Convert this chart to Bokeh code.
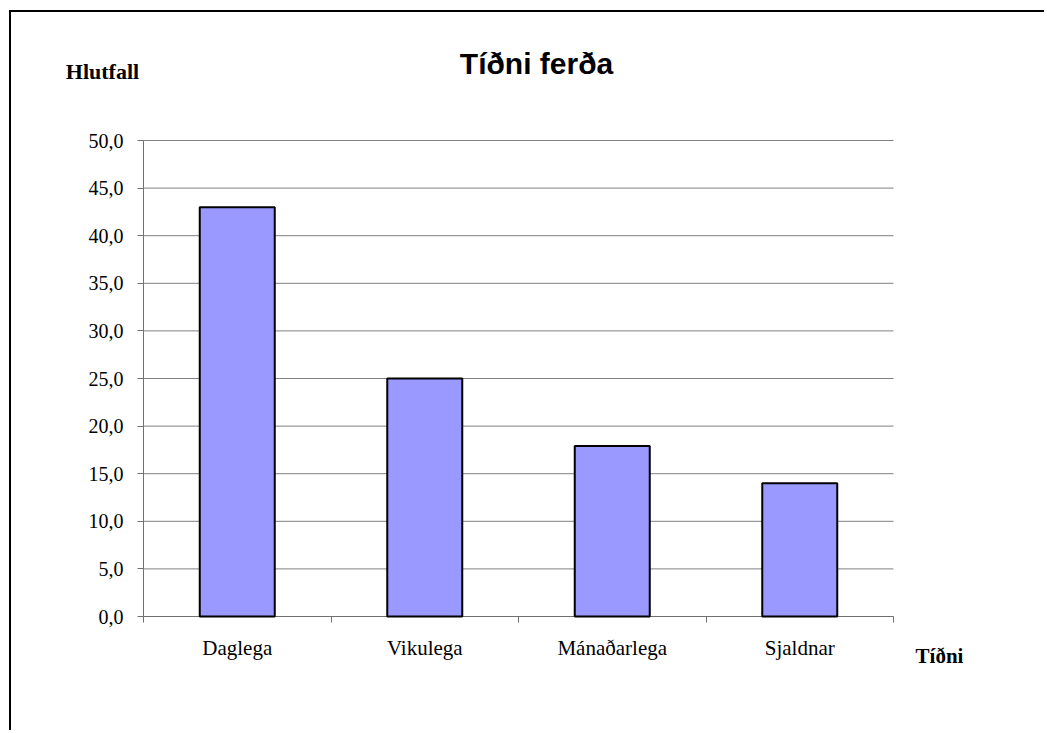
from bokeh.plotting import figure
from bokeh.models import Range1d, FixedTicker, Label
from bokeh.embed import file_html
from bokeh.resources import INLINE

# ---- data ----
categories = ["Daglega", "Vikulega", "Mánaðarlega", "Sjaldnar"]
values = [43.0, 25.0, 17.9, 14.0]
y_ticks = [0, 5, 10, 15, 20, 25, 30, 35, 40, 45, 50]
y_max = 50
title_text = "Tíðni ferða"
y_title = "Hlutfall"
x_title = "Tíðni"

# ---- layout (pixels) ----
W, H = 1035, 720
CANVAS_X0, CANVAS_Y0 = 11, 12          # canvas origin on the page
PL, PR, PT, PB = 143, 893, 140, 616    # plot area on the page

ncat = len(categories)
sx = (PR - PL) / ncat                  # px per category
sy = (PB - PT) / y_max                 # px per unit
cl, cr = PL - CANVAS_X0, PR - CANVAS_X0
ct, cb = PT - CANVAS_Y0, PB - CANVAS_Y0
x_range = Range1d(-cl / sx, ncat + (W - cr) / sx)
y_range = Range1d(-(H - cb) / sy, y_max + ct / sy)

p = figure(width=W, height=H, output_backend="svg", toolbar_location=None,
           x_range=x_range, y_range=y_range)
p.min_border = 0
p.min_border_left = p.min_border_right = p.min_border_top = p.min_border_bottom = 0
p.styles = {"margin-left": "9px", "margin-top": "10px",
            "border-left": "2px solid black", "border-top": "2px solid black"}
p.outline_line_color = None
p.background_fill_color = "white"
p.border_fill_color = "white"
p.xgrid.visible = False
p.ygrid.visible = False

axis_col = "#707070"
grid_col = "#808080"

# horizontal grid lines across the category area
gy = y_ticks[1:]
p.segment(x0=[0] * len(gy), x1=[ncat] * len(gy), y0=gy, y1=gy,
          line_color=grid_col, line_width=1)

xs = [i + 0.5 for i in range(ncat)]
p.vbar(x=xs, top=values, width=0.4, bottom=0,
       fill_color="#9999FF", line_color="black", line_width=2)

# y axis
yax = p.yaxis[0]
yax.fixed_location = 0
yax.bounds = (0, y_max)
yax.ticker = FixedTicker(ticks=y_ticks, minor_ticks=[])
yax.major_label_overrides = {t: f"{t:.1f}".replace(".", ",") for t in y_ticks}
yax.major_label_text_font = "Liberation Serif"
yax.major_label_text_font_size = "20px"
yax.major_label_text_color = "black"
yax.major_tick_out = 6
yax.major_tick_in = 0
yax.minor_tick_line_color = None
yax.axis_line_color = axis_col
yax.major_tick_line_color = axis_col
yax.major_label_standoff = 14
yax.level = "underlay"

# x axis
xax = p.xaxis[0]
xax.fixed_location = 0
xax.bounds = (0, ncat)
xax.ticker = FixedTicker(ticks=xs, minor_ticks=list(range(ncat + 1)))
xax.major_label_overrides = {x: c for x, c in zip(xs, categories)}
xax.major_label_text_font = "Liberation Serif"
xax.major_label_text_font_size = "21px"
xax.major_label_text_color = "black"
xax.major_tick_out = 0
xax.major_tick_in = 0
xax.major_tick_line_color = None
xax.minor_tick_out = 6
xax.minor_tick_in = 0
xax.minor_tick_line_color = axis_col
xax.axis_line_color = axis_col
xax.major_label_standoff = 13
xax.level = "underlay"


def dx(page_x):
    return (page_x - PL) / sx


def dy(page_y):
    return (PB - page_y) / sy


p.add_layout(Label(x=dx(536), y=dy(63), text=title_text, text_align="center",
                   text_baseline="alphabetic", text_font="Liberation Sans",
                   text_font_style="bold", text_font_size="30px", text_color="black"))
p.add_layout(Label(x=dx(102), y=dy(71), text=y_title, text_align="center",
                   text_baseline="alphabetic", text_font="Liberation Serif",
                   text_font_style="bold", text_font_size="22px", text_color="black"))
p.add_layout(Label(x=dx(939), y=dy(655), text=x_title, text_align="center",
                   text_baseline="alphabetic", text_font="Liberation Serif",
                   text_font_style="bold", text_font_size="21px", text_color="black"))

open("out.html", "w").write(file_html(p, INLINE))
